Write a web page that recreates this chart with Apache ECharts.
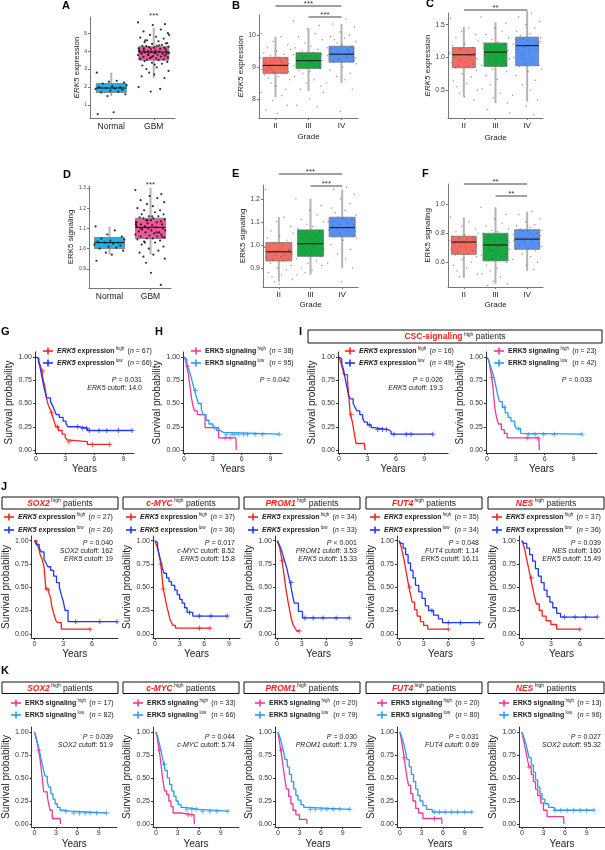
<!DOCTYPE html>
<html><head><meta charset="utf-8">
<script src="https://cdn.jsdelivr.net/npm/echarts@6/dist/echarts.min.js"></script>
<style>html,body{margin:0;padding:0;background:#fff}#c{width:605px;height:850px}</style>
</head><body><div id="c"></div>
<script>
// ================= DATA =================
const catsAD = ['Normal', 'GBM'];
const catsGrade = ['II', 'III', 'IV'];
// box stats: [min, Q1, median, Q3, max]
const statsA = [[1.5, 1.7, 1.95, 2.2, 2.8], [2.5, 3.5, 3.95, 4.25, 5.3]];
const statsB = [[8.05, 8.8, 9.05, 9.3, 9.95], [8.25, 8.95, 9.2, 9.45, 10.2], [8.5, 9.15, 9.4, 9.65, 10.35]];
const statsC = [[0.4, 0.84, 1.04, 1.15, 1.47], [0.3, 0.86, 1.08, 1.22, 1.54], [0.32, 0.87, 1.18, 1.31, 1.72]];
const statsD = [[0.97, 1.0, 1.03, 1.055, 1.11], [0.97, 1.05, 1.105, 1.15, 1.3]];
const statsE = [[0.84, 0.93, 0.97, 1.01, 1.12], [0.87, 0.95, 1.005, 1.065, 1.2], [0.9, 1.035, 1.075, 1.12, 1.24]];
const statsF = [[0.49, 0.655, 0.74, 0.78, 0.91], [0.45, 0.61, 0.72, 0.80, 0.98], [0.54, 0.69, 0.76, 0.825, 0.95]];
// jittered sample points
const ptsA_normal = [2.8, 2.35, 2.3, 2.25, 2.2, 2.1, 2.05, 2.0, 1.98, 1.95, 1.92, 1.9, 1.85, 1.8, 1.75, 1.7, 1.6, 1.5, 0.6, 0.5];
const ptsA_gbm = [5.6, 5.5, 5.45, 5.2, 5.1, 5.0, 4.9, 4.8, 4.75, 4.7, 4.6, 4.55, 4.5, 4.45, 4.4, 4.35, 4.3, 4.3, 4.28, 4.25, 4.22, 4.2, 4.18, 4.15, 4.12, 4.1, 4.08, 4.05, 4.03, 4.0, 4.0, 3.98, 3.96, 3.95, 3.93, 3.9, 3.88, 3.86, 3.85, 3.82, 3.8, 3.78, 3.75, 3.72, 3.7, 3.68, 3.65, 3.62, 3.6, 3.58, 3.55, 3.52, 3.5, 3.45, 3.4, 3.35, 3.3, 3.2, 3.1, 3.0, 2.9, 2.8, 2.7, 2.5, 2.0, 1.9, 1.75, 4.42, 4.15, 3.92, 3.78, 4.05, 4.32, 3.66, 3.84, 4.6, 4.9, 3.25, 2.6];
const ptsB_II = [10.05, 9.95, 9.8, 9.7, 9.6, 9.55, 9.5, 9.45, 9.4, 9.35, 9.3, 9.28, 9.25, 9.2, 9.15, 9.12, 9.1, 9.08, 9.05, 9.02, 9.0, 8.98, 8.95, 8.9, 8.85, 8.82, 8.8, 8.75, 8.7, 8.65, 8.6, 8.5, 8.4, 8.3, 8.2, 8.1, 7.95, 7.8, 7.65, 7.55, 9.18, 8.92, 9.22, 8.88];
const ptsB_III = [10.45, 10.3, 10.2, 10.05, 9.95, 9.85, 9.75, 9.65, 9.6, 9.55, 9.5, 9.45, 9.42, 9.4, 9.35, 9.3, 9.28, 9.25, 9.22, 9.2, 9.18, 9.15, 9.1, 9.05, 9.0, 8.98, 8.95, 8.9, 8.85, 8.8, 8.7, 8.6, 8.5, 8.4, 8.3, 8.2, 8.0, 7.8, 7.75, 9.32, 9.12, 9.38, 9.02];
const ptsB_IV = [10.5, 10.35, 10.25, 10.1, 10.0, 9.95, 9.9, 9.85, 9.8, 9.75, 9.7, 9.65, 9.6, 9.55, 9.5, 9.45, 9.42, 9.4, 9.38, 9.35, 9.3, 9.25, 9.2, 9.15, 9.1, 9.0, 8.9, 8.8, 8.7, 8.6, 8.5, 8.3, 7.6, 9.48, 9.58, 9.28];
const ptsC_II = [1.6, 1.45, 1.4, 1.35, 1.3, 1.25, 1.2, 1.18, 1.15, 1.12, 1.1, 1.08, 1.06, 1.04, 1.02, 1.0, 0.98, 0.96, 0.94, 0.92, 0.9, 0.88, 0.86, 0.84, 0.8, 0.75, 0.7, 0.65, 0.6, 0.55, 0.5, 0.45, 0.4, 0.35, 1.05, 0.97, 1.13];
const ptsC_III = [1.62, 1.52, 1.45, 1.4, 1.35, 1.3, 1.27, 1.24, 1.22, 1.2, 1.18, 1.15, 1.12, 1.1, 1.08, 1.06, 1.04, 1.02, 1.0, 0.98, 0.95, 0.92, 0.9, 0.88, 0.86, 0.82, 0.78, 0.72, 0.66, 0.58, 0.52, 0.45, 0.38, 0.3, 0.2, 0.15, 1.09, 1.14, 0.94];
const ptsC_IV = [1.68, 1.62, 1.55, 1.5, 1.45, 1.4, 1.36, 1.33, 1.3, 1.28, 1.25, 1.22, 1.2, 1.18, 1.16, 1.14, 1.12, 1.1, 1.05, 1.0, 0.95, 0.9, 0.88, 0.86, 0.82, 0.78, 0.72, 0.65, 0.58, 0.5, 0.42, 0.35, 0.25, 0.12, 1.19, 1.24, 1.08];
const ptsD_normal = [1.11, 1.09, 1.07, 1.06, 1.05, 1.045, 1.04, 1.035, 1.03, 1.03, 1.025, 1.02, 1.015, 1.01, 1.005, 1.0, 0.99, 0.98, 0.97, 0.94];
const ptsD_gbm = [1.29, 1.27, 1.26, 1.25, 1.24, 1.23, 1.22, 1.21, 1.2, 1.19, 1.19, 1.18, 1.17, 1.17, 1.16, 1.16, 1.155, 1.15, 1.15, 1.145, 1.14, 1.14, 1.135, 1.13, 1.13, 1.125, 1.12, 1.12, 1.115, 1.11, 1.11, 1.105, 1.1, 1.1, 1.095, 1.09, 1.09, 1.085, 1.08, 1.08, 1.075, 1.07, 1.07, 1.065, 1.06, 1.06, 1.055, 1.05, 1.05, 1.045, 1.04, 1.035, 1.03, 1.02, 1.01, 1.0, 0.99, 0.98, 0.97, 0.96, 0.95, 0.93, 0.88, 0.82, 1.12, 1.08, 1.14, 1.06, 1.1, 1.16, 1.03, 1.13];
const ptsE_II = [1.24, 1.12, 1.1, 1.08, 1.06, 1.05, 1.04, 1.03, 1.02, 1.01, 1.0, 0.99, 0.98, 0.975, 0.97, 0.965, 0.96, 0.955, 0.95, 0.945, 0.94, 0.935, 0.93, 0.92, 0.91, 0.9, 0.89, 0.88, 0.87, 0.86, 0.85, 0.84, 0.83, 0.975, 0.99, 0.955];
const ptsE_III = [1.2, 1.17, 1.15, 1.13, 1.11, 1.1, 1.09, 1.08, 1.07, 1.06, 1.05, 1.04, 1.03, 1.02, 1.01, 1.005, 1.0, 0.995, 0.99, 0.98, 0.97, 0.96, 0.95, 0.94, 0.93, 0.92, 0.91, 0.9, 0.89, 0.88, 0.87, 1.015, 1.035, 0.985];
const ptsE_IV = [1.25, 1.24, 1.22, 1.2, 1.18, 1.16, 1.15, 1.14, 1.13, 1.12, 1.115, 1.11, 1.1, 1.095, 1.09, 1.085, 1.08, 1.075, 1.07, 1.065, 1.06, 1.05, 1.04, 1.035, 1.03, 1.02, 1.0, 0.98, 0.96, 0.94, 0.92, 0.9, 0.84, 1.08, 1.1, 1.06];
const ptsF_II = [0.91, 0.88, 0.85, 0.83, 0.81, 0.8, 0.79, 0.78, 0.77, 0.765, 0.76, 0.75, 0.745, 0.74, 0.735, 0.73, 0.72, 0.71, 0.7, 0.69, 0.68, 0.67, 0.66, 0.65, 0.64, 0.62, 0.6, 0.58, 0.56, 0.54, 0.52, 0.5, 0.73, 0.755];
const ptsF_III = [0.98, 0.93, 0.9, 0.87, 0.85, 0.83, 0.82, 0.81, 0.8, 0.79, 0.78, 0.77, 0.76, 0.75, 0.74, 0.73, 0.72, 0.71, 0.7, 0.69, 0.68, 0.67, 0.66, 0.65, 0.64, 0.62, 0.6, 0.58, 0.56, 0.54, 0.52, 0.5, 0.47, 0.45, 0.44, 0.735, 0.705];
const ptsF_IV = [0.95, 0.93, 0.9, 0.88, 0.86, 0.85, 0.84, 0.83, 0.82, 0.815, 0.81, 0.8, 0.79, 0.78, 0.775, 0.77, 0.765, 0.76, 0.755, 0.75, 0.745, 0.74, 0.73, 0.72, 0.71, 0.7, 0.69, 0.68, 0.66, 0.64, 0.62, 0.6, 0.58, 0.55, 0.77, 0.785];
// jitter pattern (fraction of half band)
const JIT = [-0.92, 0.35, -0.15, 0.81, -0.54, 0.98, 0.06, -0.77, 0.57, -0.33, 0.24, -1.0, 0.71, -0.06, 0.45, -0.65, 0.9, -0.24, 0.15,
  -0.86, 0.63, -0.42, 0.3, -0.58, 0.86, -0.11, 0.52, -0.72, 0.19, -0.47, 0.94, -0.29, 0.03, 0.68, -0.96, 0.41, -0.19, 0.77, -0.63, 0.11, -0.37];

// Kaplan–Meier curves: [years, survival]; censor times
const kmG_hi = [[0,1],[0.15,0.985],[0.3,0.955],[0.45,0.91],[0.6,0.85],[0.75,0.75],[0.9,0.69],[1.0,0.62],[1.1,0.55],[1.25,0.49],[1.45,0.44],[1.6,0.4],[1.75,0.35],[1.9,0.3],[2.05,0.25],[2.3,0.21],[2.7,0.17],[3.0,0.14],[3.2,0.11],[3.35,0.09],[5.3,0.06],[7.6,0.06]];
const kmG_hi_c = [0.7, 1.6, 2.2, 3.4, 5.8, 7.6];
const kmG_lo = [[0,1],[0.1,0.985],[0.25,0.95],[0.4,0.9],[0.55,0.82],[0.7,0.74],[0.85,0.66],[1.0,0.6],[1.1,0.56],[1.5,0.52],[1.7,0.48],[1.9,0.43],[2.1,0.38],[2.4,0.35],[2.8,0.31],[3.1,0.28],[3.3,0.25],[4.5,0.235],[5.3,0.21],[9.9,0.21]];
const kmG_lo_c = [4.3, 4.8, 5.2, 5.5, 6.5, 7.3, 8.5, 9.9];
const kmH_hi = [[0,1],[0.15,0.97],[0.3,0.9],[0.45,0.82],[0.55,0.74],[0.7,0.63],[0.8,0.55],[0.95,0.47],[1.1,0.42],[1.4,0.38],[2.2,0.24],[3.6,0.13],[5.4,0.13],[5.45,0]];
const kmH_hi_c = [0.35, 4.3, 4.8];
const kmH_lo = [[0,1],[0.1,0.98],[0.3,0.93],[0.5,0.87],[0.7,0.8],[0.9,0.72],[1.1,0.64],[1.3,0.57],[1.5,0.5],[1.8,0.44],[2.0,0.38],[2.3,0.32],[2.6,0.28],[3.0,0.24],[3.4,0.21],[3.8,0.19],[4.1,0.17],[9.9,0.17]];
const kmH_lo_c = [1.2, 3.2, 4.4, 5.0, 5.3, 5.7, 6.2, 6.6, 7.4, 8.2, 9.9];
const kmI1_hi = [[0,1],[0.2,0.94],[0.4,0.87],[0.5,0.81],[0.9,0.75],[1.0,0.62],[1.1,0.5],[1.2,0.38],[1.4,0.31],[1.6,0.19],[1.8,0.07],[2.7,0.07],[2.75,0]];
const kmI1_hi_c = [1.3];
const kmI1_lo = [[0,1],[0.2,0.98],[0.3,0.92],[0.5,0.86],[0.6,0.8],[0.75,0.72],[0.9,0.65],[1.0,0.59],[1.2,0.55],[1.5,0.5],[1.7,0.46],[1.9,0.42],[2.2,0.38],[2.5,0.34],[2.7,0.3],[3.0,0.27],[3.4,0.24],[3.7,0.22],[5.2,0.2],[5.5,0.17],[9.9,0.17]];
const kmI1_lo_c = [3.2, 4.1, 4.6, 5.0, 5.8, 7.1, 7.6, 9.9];
const kmI2_hi = [[0,1],[0.2,0.96],[0.35,0.87],[0.5,0.78],[0.65,0.65],[0.75,0.52],[0.85,0.43],[1.0,0.35],[1.2,0.28],[1.5,0.22],[1.8,0.18],[2.1,0.13],[5.4,0.13],[5.45,0]];
const kmI2_hi_c = [0.5, 4.2, 5.3];
const kmI2_lo = [[0,1],[0.15,0.97],[0.3,0.92],[0.5,0.86],[0.7,0.79],[0.9,0.7],[1.1,0.6],[1.3,0.52],[1.6,0.46],[1.9,0.4],[2.2,0.35],[2.5,0.31],[2.9,0.26],[3.1,0.23],[3.5,0.18],[3.6,0.17],[9.9,0.17]];
const kmI2_lo_c = [1.8, 3.3, 4.3, 5.0, 5.9, 7.0, 9.9];
// J (expression) panels
const kmJ1_hi = [[0,1],[0.25,0.96],[0.45,0.92],[0.6,0.85],[0.8,0.8],[1.0,0.72],[1.1,0.6],[1.2,0.48],[1.5,0.44],[1.7,0.38],[1.8,0.3],[2.0,0.22],[2.2,0.15],[2.4,0.12],[2.8,0.05],[5.8,0.05]];
const kmJ1_hi_c = [1.3, 5.8];
const kmJ1_lo = [[0,1],[0.2,0.96],[0.5,0.92],[0.7,0.88],[1.0,0.8],[1.2,0.76],[1.4,0.72],[1.7,0.68],[2.0,0.62],[2.3,0.55],[2.6,0.5],[2.8,0.42],[3.0,0.35],[3.2,0.25],[3.5,0.13],[8.6,0.13]];
const kmJ1_lo_c = [4.3, 6.8, 8.6];
const kmJ2_hi = [[0,1],[0.1,0.97],[0.3,0.92],[0.5,0.84],[0.7,0.75],[0.8,0.66],[0.9,0.57],[1.0,0.48],[1.2,0.4],[1.35,0.33],[1.5,0.27],[1.65,0.22],[1.8,0.16],[2.0,0.12],[2.2,0.09],[2.5,0.06],[6.7,0.06]];
const kmJ2_hi_c = [0.7, 1.0, 5.4, 6.7];
const kmJ2_lo = [[0,1],[0.1,0.98],[0.3,0.93],[0.5,0.85],[0.7,0.78],[0.9,0.7],[1.1,0.65],[1.4,0.6],[1.7,0.56],[2.0,0.52],[2.4,0.47],[2.7,0.42],[3.0,0.37],[3.3,0.33],[3.6,0.28],[3.9,0.23],[4.6,0.19],[8.8,0.19]];
const kmJ2_lo_c = [4.2, 5.4, 6.8, 8.8];
const kmJ3_hi = [[0,1],[0.15,0.97],[0.3,0.93],[0.45,0.86],[0.6,0.79],[0.75,0.7],[0.9,0.6],[1.05,0.5],[1.2,0.42],[1.35,0.34],[1.5,0.27],[1.65,0.2],[1.8,0.14],[2.0,0.09],[2.2,0.06],[2.4,0.03],[2.7,0.03]];
const kmJ3_hi_c = [0.6, 2.7];
const kmJ3_lo = [[0,1],[0.2,0.97],[0.4,0.93],[0.6,0.88],[0.8,0.82],[1.0,0.76],[1.2,0.7],[1.4,0.62],[1.6,0.55],[1.75,0.48],[1.9,0.41],[2.1,0.33],[2.6,0.24],[3.1,0.17],[8.8,0.17]];
const kmJ3_lo_c = [1.7, 3.4, 4.4, 5.6, 7.2, 8.8];
const kmJ4_hi = [[0,1],[0.2,0.95],[0.4,0.88],[0.6,0.8],[0.8,0.7],[1.0,0.6],[1.2,0.5],[1.4,0.42],[1.6,0.34],[1.9,0.26],[2.2,0.19],[2.6,0.13],[3.0,0.09],[3.5,0.05],[6.0,0.05]];
const kmJ4_hi_c = [1.3, 6.0];
const kmJ4_lo = [[0,1],[0.2,0.97],[0.5,0.92],[0.8,0.85],[1.1,0.76],[1.4,0.68],[1.7,0.6],[2.0,0.52],[2.4,0.45],[2.8,0.38],[3.2,0.3],[3.6,0.25],[4.2,0.2],[4.8,0.16],[5.3,0.12],[9.8,0.12]];
const kmJ4_lo_c = [4.0, 6.0, 7.5, 9.8];
const kmJ5_hi = [[0,1],[0.15,0.96],[0.3,0.9],[0.5,0.8],[0.7,0.7],[0.9,0.6],[1.1,0.5],[1.3,0.4],[1.5,0.32],[1.8,0.25],[2.1,0.19],[2.5,0.14],[3.0,0.1],[3.6,0.05],[6.0,0.05]];
const kmJ5_hi_c = [1.0, 6.0];
const kmJ5_lo = [[0,1],[0.2,0.97],[0.5,0.92],[0.8,0.85],[1.1,0.78],[1.4,0.7],[1.7,0.62],[2.0,0.55],[2.3,0.47],[2.6,0.4],[2.9,0.34],[3.2,0.28],[3.6,0.22],[4.0,0.18],[7.8,0.18]];
const kmJ5_lo_c = [4.4, 5.5, 6.6, 7.8];
// K (signaling) panels
const kmK1_hi = [[0,1],[0.2,0.94],[0.4,0.88],[0.6,0.8],[0.8,0.7],[0.95,0.6],[1.1,0.5],[1.3,0.35],[1.8,0.3],[2.0,0.22],[2.2,0.15],[2.5,0.06],[3.6,0.06],[3.65,0]];
const kmK1_hi_c = [0.6];
const kmK1_lo = [[0,1],[0.15,0.97],[0.3,0.92],[0.5,0.86],[0.7,0.8],[0.9,0.72],[1.1,0.65],[1.3,0.58],[1.5,0.52],[1.8,0.46],[2.0,0.4],[2.3,0.33],[2.6,0.27],[2.9,0.22],[3.2,0.18],[3.6,0.15],[4.0,0.14],[5.0,0.12],[10.1,0.12]];
const kmK1_lo_c = [4.4, 5.5, 6.3, 7.1, 7.8, 8.7, 10.1];
const kmK2_hi = [[0,1],[0.15,0.95],[0.3,0.88],[0.45,0.8],[0.6,0.72],[0.75,0.62],[0.9,0.52],[1.05,0.44],[1.2,0.36],[1.5,0.32],[1.8,0.25],[2.1,0.19],[2.4,0.12],[3.4,0.1],[5.3,0.1],[5.35,0]];
const kmK2_hi_c = [0.5, 4.5, 5.0];
const kmK2_lo = [[0,1],[0.15,0.97],[0.3,0.93],[0.5,0.87],[0.7,0.8],[0.9,0.72],[1.1,0.65],[1.3,0.58],[1.6,0.5],[1.9,0.43],[2.2,0.36],[2.5,0.3],[2.8,0.25],[3.1,0.21],[3.5,0.18],[4.0,0.16],[6.0,0.14],[10,0.14]];
const kmK2_lo_c = [1.2, 4.3, 5.0, 5.6, 6.5, 7.5, 8.5, 10];
const kmK3_hi = [[0,1],[0.2,0.9],[0.4,0.8],[0.6,0.7],[0.8,0.58],[1.0,0.47],[1.2,0.38],[1.5,0.3],[1.8,0.22],[2.1,0.15],[2.5,0.1],[3.0,0.05],[4.0,0.05],[4.05,0]];
const kmK3_hi_c = [0.5];
const kmK3_lo = [[0,1],[0.15,0.97],[0.35,0.92],[0.6,0.85],[0.8,0.78],[1.0,0.7],[1.3,0.62],[1.6,0.54],[1.9,0.46],[2.2,0.38],[2.5,0.31],[2.8,0.26],[3.2,0.21],[3.6,0.18],[4.2,0.16],[10,0.16]];
const kmK3_lo_c = [4.5, 5.2, 6.0, 6.8, 7.7, 8.6, 10];
const kmK4_hi = [[0,1],[0.2,0.92],[0.4,0.82],[0.6,0.72],[0.8,0.6],[1.0,0.5],[1.2,0.42],[1.5,0.33],[1.8,0.25],[2.2,0.17],[2.6,0.12],[3.2,0.06],[5.8,0.06],[5.85,0]];
const kmK4_hi_c = [0.6, 4.8];
const kmK4_lo = [[0,1],[0.15,0.97],[0.35,0.92],[0.6,0.85],[0.8,0.78],[1.0,0.7],[1.3,0.62],[1.6,0.54],[1.9,0.46],[2.2,0.38],[2.5,0.31],[2.8,0.25],[3.2,0.2],[3.7,0.16],[4.5,0.13],[10,0.13]];
const kmK4_lo_c = [4.8, 5.5, 6.3, 7.2, 8.0, 9.0, 10];
const kmK5_hi = [[0,1],[0.2,0.92],[0.4,0.85],[0.6,0.77],[0.8,0.69],[1.0,0.62],[1.3,0.54],[1.6,0.46],[1.9,0.38],[2.2,0.31],[2.6,0.23],[3.0,0.15],[3.5,0.08],[5.8,0.08],[5.85,0]];
const kmK5_hi_c = [1.0];
const kmK5_lo = [[0,1],[0.15,0.97],[0.35,0.92],[0.6,0.86],[0.8,0.79],[1.0,0.72],[1.3,0.64],[1.6,0.56],[1.9,0.48],[2.2,0.4],[2.5,0.33],[2.8,0.27],[3.2,0.22],[3.7,0.18],[4.5,0.15],[10,0.15]];
const kmK5_lo_c = [4.6, 5.4, 6.3, 7.2, 8.1, 9.0, 10];

// labels / annotations text
const genesJ = ['SOX2', 'c-MYC', 'PROM1', 'FUT4', 'NES'];
const nJ = [[27, 26], [37, 36], [34, 33], [35, 34], [37, 36]];
const pJ = ['= 0.040', '= 0.017', '< 0.001', '= 0.048', '= 0.039'];
const geneCutJ = ['162', '8.52', '3.53', '1.14', '160'];
const erkCutJ = ['19', '15.8', '15.33', '16.11', '15.49'];
const nK = [[17, 82], [33, 66], [20, 79], [20, 80], [13, 96]];
const pK = ['0.039', '0.044', '0.030', '0.031', '0.027'];
const cutGeneK = ['SOX2', 'c-MYC', 'PROM1', 'FUT4', 'SOX2'];
const cutK = ['51.9', '5.74', '1.79', '0.69', '95.32'];

// ================= STYLE / LAYOUT =================
const FONT = '"Liberation Sans", Arial, Helvetica, sans-serif';
const RED = '#F5221B', BLUE = '#2038F0', PINK = '#F0388E', LBLUE = '#2A9BF2';
const C_NORMAL = '#1DB3E9', C_GBM = '#F0569C', C_II = '#F46B62', C_III = '#17A840', C_IV = '#5590F2';
const PLUS = 'path://M2,0h1v2h2v1h-2v2h-1v-2h-2v-1h2z';

const grids = [], xAxes = [], yAxes = [], series = [], graphics = [];

function rs(size, o) { return Object.assign({ fontSize: size, fontFamily: FONT, fill: '#222' }, o || {}); }
function survAt(d, t) { let s = d[0][1]; for (const p of d) { if (p[0] <= t + 1e-9) s = p[1]; else break; } return s; }

function addBoxPanel(p) {
  const gi = grids.length;
  grids.push({ left: p.rect[0], top: p.rect[1], width: p.rect[2], height: p.rect[3] });
  const n = p.cats.length, idx = p.cats.map((c, i) => i);
  const xi = xAxes.length;
  xAxes.push({ gridIndex: gi, type: 'value', min: -0.5, max: n - 0.5,
    axisLine: { show: true, onZero: false, lineStyle: { color: '#777', width: 1 } },
    axisTick: { show: true, length: 2, customValues: idx, lineStyle: { color: '#777' } },
    axisLabel: { customValues: idx, formatter: v => p.cats[Math.round(v)], fontSize: p.catFont, fontFamily: FONT, color: '#222', margin: 4 },
    splitLine: { show: false },
    name: p.xname || '', nameLocation: 'middle', nameGap: p.xGap || 14,
    nameTextStyle: { fontSize: 8, fontFamily: FONT, color: '#222' } });
  const yi = yAxes.length;
  yAxes.push({ gridIndex: gi, type: 'value', min: p.ymin, max: p.ymax,
    axisLine: { show: true, onZero: false, lineStyle: { color: '#777' } },
    axisTick: { show: true, length: 2, customValues: p.yticks, lineStyle: { color: '#777' } },
    axisLabel: { customValues: p.yticks, formatter: v => v.toFixed(p.dec), fontSize: p.tickFont, fontFamily: FONT, color: '#444', margin: 3 },
    splitLine: { show: false },
    name: p.yname, nameLocation: 'middle', nameGap: p.yGap,
    nameTextStyle: { fontSize: 8, fontFamily: FONT, color: '#222', rich: { i: { fontSize: 8, fontFamily: FONT, color: '#222', fontStyle: 'italic' } } } });
  series.push({ type: 'custom', xAxisIndex: xi, yAxisIndex: yi, silent: true, z: 2,
    data: p.stats.map((s, i) => [i].concat(s)),
    renderItem: function (params, api) {
      const i = api.value(0);
      const pMin = api.coord([i, api.value(1)]), pQ1 = api.coord([i, api.value(2)]);
      const pMed = api.coord([i, api.value(3)]), pQ3 = api.coord([i, api.value(4)]), pMax = api.coord([i, api.value(5)]);
      const x = pMed[0], bw = p.boxW;
      return { type: 'group', children: [
        { type: 'line', shape: { x1: x, y1: pMax[1], x2: x, y2: pMin[1] }, style: { stroke: '#b3b3b3', lineWidth: 2 } },
        { type: 'rect', shape: { x: x - bw / 2, y: pQ3[1], width: bw, height: pQ1[1] - pQ3[1] }, style: { fill: p.colors[i], stroke: '#777', lineWidth: 0.8 } },
        { type: 'line', shape: { x1: x - bw / 2, y1: pMed[1], x2: x + bw / 2, y2: pMed[1] }, style: { stroke: '#222', lineWidth: 1.2 } }
      ] };
    } });
  p.pts.forEach((arr, g) => {
    series.push({ type: 'scatter', xAxisIndex: xi, yAxisIndex: yi, silent: true, z: 3,
      symbolSize: p.ptSize, itemStyle: { color: p.ptColor, opacity: p.ptOp },
      data: arr.map((v, k) => [g + JIT[(k + g * 11) % JIT.length] * p.spread, v]) });
  });
  const cx = i => p.rect[0] + (i + 0.5) * p.rect[2] / n;
  (p.sig || []).forEach(s => {
    if (s.x1 !== undefined) graphics.push({ type: 'line', silent: true, shape: { x1: cx(s.x1), y1: s.y, x2: cx(s.x2), y2: s.y }, style: { stroke: '#444', lineWidth: 1.2 } });
    const mx = s.x1 !== undefined ? (cx(s.x1) + cx(s.x2)) / 2 : cx(s.at);
    graphics.push({ type: 'text', silent: true, x: mx, y: s.y - 2, style: { text: s.label, fontSize: 8, fontFamily: FONT, fill: '#333', align: 'center', textAlign: 'center', verticalAlign: 'middle', textVerticalAlign: 'middle' } });
  });
}

const YT = [0, 0.25, 0.5, 0.75, 1];
function addKM(p) {
  const gi = grids.length;
  grids.push({ left: p.rect[0], top: p.rect[1], width: p.rect[2], height: p.rect[3] });
  const xi = xAxes.length;
  xAxes.push({ gridIndex: gi, type: 'value', min: p.x[0], max: p.x[1],
    axisLine: { show: true, onZero: false, lineStyle: { color: '#333' } },
    axisTick: { show: true, length: 2, customValues: p.xt, lineStyle: { color: '#333' } },
    axisLabel: { customValues: p.xt, fontSize: 7, fontFamily: FONT, color: '#333', margin: 3 },
    splitLine: { show: false },
    name: 'Years', nameLocation: 'middle', nameGap: p.xg, nameTextStyle: { fontSize: 10, fontFamily: FONT, color: '#222' } });
  const yi = yAxes.length;
  yAxes.push({ gridIndex: gi, type: 'value', min: p.y[0], max: p.y[1],
    axisLine: { show: true, onZero: false, lineStyle: { color: '#333' } },
    axisTick: { show: true, length: 2, customValues: YT, lineStyle: { color: '#333' } },
    axisLabel: { customValues: YT, formatter: v => v.toFixed(2), fontSize: 7, fontFamily: FONT, color: '#333', margin: 3 },
    splitLine: { show: false },
    name: 'Survival probability', nameLocation: 'middle', nameGap: p.yg, nameTextStyle: { fontSize: 10, fontFamily: FONT, color: '#222' } });
  p.curves.forEach(cv => {
    series.push({ type: 'line', xAxisIndex: xi, yAxisIndex: yi, step: 'end', data: cv.d, showSymbol: false, symbol: 'none', silent: true, z: 2,
      lineStyle: { color: cv.col, width: 1.3 }, itemStyle: { color: cv.col } });
    series.push({ type: 'scatter', xAxisIndex: xi, yAxisIndex: yi, silent: true, z: 3, symbol: PLUS, symbolSize: 5,
      itemStyle: { color: cv.col }, data: cv.c.map(t => [t, survAt(cv.d, t)]) });
  });
}

// ---- rich text helpers ----
const RICH_LEG = {
  bi: rs(7, { fontWeight: 'bold', fontStyle: 'italic', lineHeight: 9 }),
  b: rs(7, { fontWeight: 'bold', lineHeight: 9 }),
  s: rs(4.5, { lineHeight: 5, verticalAlign: 'top', width: 13 }),
  t: rs(7, { lineHeight: 9 }),
  i: rs(7, { fontStyle: 'italic', lineHeight: 9 })
};
const RICH_ST = { t: rs(7, {}), i: rs(7, { fontStyle: 'italic' }) };
const RICH_HD = {
  ri: rs(8.5, { fontWeight: 'bold', fontStyle: 'italic', fill: '#FF1A1A', lineHeight: 10 }),
  rn: rs(8.5, { fontWeight: 'bold', fill: '#FF1A1A', lineHeight: 10 }),
  s: rs(5, { lineHeight: 5.5, verticalAlign: 'top' }),
  t: rs(8.5, { lineHeight: 10 })
};
function legExpr(lvl, n) { return '{bi|ERK5}{b| expression}{s| ' + lvl + '}{t|(}{i|n}{t| = ' + n + ')}'; }
function legSig(lvl, n) { return '{b|ERK5 signaling}{s| ' + lvl + '}{t|(}{i|n}{t| = ' + n + ')}'; }
function txt(x, y, text, rich, align) {
  graphics.push({ type: 'text', silent: true, x: x, y: y, style: { text: text, rich: rich, fontSize: 7, fontFamily: FONT, fill: '#222',
    align: align || 'left', textAlign: align || 'left', verticalAlign: 'middle', textVerticalAlign: 'middle' } });
}
function legendItem(x, y, color, text) {
  graphics.push({ type: 'line', silent: true, shape: { x1: x - 14, y1: y, x2: x - 4, y2: y }, style: { stroke: color, lineWidth: 1.6 } });
  graphics.push({ type: 'line', silent: true, shape: { x1: x - 9, y1: y - 3.5, x2: x - 9, y2: y + 3.5 }, style: { stroke: color, lineWidth: 1.6 } });
  txt(x, y, text, RICH_LEG, 'left');
}
function header(x, y, w, h, text) {
  graphics.push({ type: 'rect', silent: true, shape: { x: x, y: y, width: w, height: h }, style: { fill: '#fff', stroke: '#111', lineWidth: 1 } });
  graphics.push({ type: 'text', silent: true, x: x + w / 2, y: y + h / 2 + 0.5, style: { text: text, rich: RICH_HD, fontSize: 8.5, fontFamily: FONT, fill: '#222',
    align: 'center', textAlign: 'center', verticalAlign: 'middle', textVerticalAlign: 'middle' }, z: 10 });
}
function letter(ch, x, y) {
  graphics.push({ type: 'text', silent: true, x: x, y: y, style: { text: ch, fontSize: 11, fontWeight: 'bold', fontFamily: FONT, fill: '#000',
    align: 'left', textAlign: 'left', verticalAlign: 'top', textVerticalAlign: 'top' } });
}

// ================= BUILD =================
addBoxPanel({ rect: [90, 17, 85, 101], cats: catsAD, stats: statsA, pts: [ptsA_normal, ptsA_gbm], colors: [C_NORMAL, C_GBM],
  ymin: 0.28, ymax: 5.9, yticks: [1, 2, 3, 4, 5], dec: 0, tickFont: 5, catFont: 8.5, boxW: 30,
  yname: '{i|ERK5} expression', yGap: 8, ptColor: '#111', ptSize: 2.2, ptOp: 0.85, spread: 0.37,
  sig: [{ at: 1, y: 18, label: '***' }] });
addBoxPanel({ rect: [259, 15, 99, 103], cats: catsGrade, stats: statsB, pts: [ptsB_II, ptsB_III, ptsB_IV], colors: [C_II, C_III, C_IV],
  ymin: 7.4, ymax: 10.63, yticks: [8, 9, 10], dec: 0, tickFont: 7, catFont: 8, boxW: 25,
  yname: '{i|ERK5} expression', yGap: 11, xname: 'Grade', xGap: 15, ptColor: '#555', ptSize: 1.5, ptOp: 0.6, spread: 0.46,
  sig: [{ x1: 0, x2: 2, y: 6, label: '***' }, { x1: 1, x2: 2, y: 17, label: '***' }] });
addBoxPanel({ rect: [448, 13, 95, 105], cats: catsGrade, stats: statsC, pts: [ptsC_II, ptsC_III, ptsC_IV], colors: [C_II, C_III, C_IV],
  ymin: 0.07, ymax: 1.68, yticks: [0.5, 1.0, 1.5], dec: 1, tickFont: 7, catFont: 8, boxW: 23,
  yname: '{i|ERK5} expression', yGap: 13, xname: 'Grade', xGap: 16, ptColor: '#555', ptSize: 1.5, ptOp: 0.6, spread: 0.46,
  sig: [{ x1: 0, x2: 2, y: 10, label: '**' }] });
addBoxPanel({ rect: [89, 186, 82, 102], cats: catsAD, stats: statsD, pts: [ptsD_normal, ptsD_gbm], colors: [C_NORMAL, C_GBM],
  ymin: 0.805, ymax: 1.31, yticks: [0.9, 1.0, 1.1, 1.2, 1.3], dec: 1, tickFont: 5, catFont: 8.5, boxW: 30,
  yname: 'ERK5 signaling', yGap: 10, ptColor: '#111', ptSize: 2.2, ptOp: 0.85, spread: 0.37,
  sig: [{ at: 1, y: 187, label: '***' }] });
addBoxPanel({ rect: [263, 185, 95, 102], cats: catsGrade, stats: statsE, pts: [ptsE_II, ptsE_III, ptsE_IV], colors: [C_II, C_III, C_IV],
  ymin: 0.817, ymax: 1.26, yticks: [0.9, 1.0, 1.1, 1.2], dec: 1, tickFont: 7, catFont: 8, boxW: 26,
  yname: 'ERK5 signaling', yGap: 14, xname: 'Grade', xGap: 14, ptColor: '#555', ptSize: 1.5, ptOp: 0.6, spread: 0.46,
  sig: [{ x1: 0, x2: 2, y: 174, label: '***' }, { x1: 1, x2: 2, y: 186, label: '***' }] });
addBoxPanel({ rect: [448, 184, 95, 103], cats: catsGrade, stats: statsF, pts: [ptsF_II, ptsF_III, ptsF_IV], colors: [C_II, C_III, C_IV],
  ymin: 0.43, ymax: 1.14, yticks: [0.6, 0.8, 1.0], dec: 1, tickFont: 7, catFont: 8, boxW: 25,
  yname: 'ERK5 signaling', yGap: 14, xname: 'Grade', xGap: 14, ptColor: '#555', ptSize: 1.5, ptOp: 0.6, spread: 0.46,
  sig: [{ x1: 0, x2: 2, y: 184, label: '**' }, { x1: 1, x2: 2, y: 196, label: '**' }] });

// G, H, I
const ROWY = [-0.032, 1.054];
addKM({ rect: [35, 352, 99, 101], x: [-0.1, 10.1], y: ROWY, xt: [0, 3, 6, 9], xg: 11, yg: 21,
  curves: [{ d: kmG_hi, c: kmG_hi_c, col: RED }, { d: kmG_lo, c: kmG_lo_c, col: BLUE }] });
addKM({ rect: [183, 352, 99, 101], x: [-0.1, 10.2], y: ROWY, xt: [0, 3, 6, 9], xg: 11, yg: 21,
  curves: [{ d: kmH_hi, c: kmH_hi_c, col: PINK }, { d: kmH_lo, c: kmH_lo_c, col: LBLUE }] });
addKM({ rect: [338, 352, 110, 101], x: [-0.1, 11.5], y: ROWY, xt: [0, 3, 6, 9], xg: 11, yg: 21,
  curves: [{ d: kmI1_hi, c: kmI1_hi_c, col: RED }, { d: kmI1_lo, c: kmI1_lo_c, col: BLUE }] });
addKM({ rect: [486, 352, 111, 101], x: [-0.1, 11.45], y: ROWY, xt: [0, 3, 6, 9], xg: 11, yg: 21,
  curves: [{ d: kmI2_hi, c: kmI2_hi_c, col: PINK }, { d: kmI2_lo, c: kmI2_lo_c, col: LBLUE }] });

legendItem(57, 351, RED, legExpr('high', 67)); legendItem(57, 363, BLUE, legExpr('low', 66));
legendItem(205, 351, PINK, legSig('high', 38)); legendItem(205, 363, LBLUE, legSig('low', 95));
legendItem(359, 351, RED, legExpr('high', 16)); legendItem(359, 363, BLUE, legExpr('low', 49));
legendItem(508, 351, PINK, legSig('high', 23)); legendItem(508, 363, LBLUE, legSig('low', 42));
txt(142, 380, '{i|P}{t| = 0.031}', RICH_ST, 'right'); txt(142, 388, '{i|ERK5}{t| cutoff: 14.0}', RICH_ST, 'right');
txt(290, 380, '{i|P}{t| = 0.042}', RICH_ST, 'right');
txt(443, 380, '{i|P}{t| = 0.026}', RICH_ST, 'right'); txt(443, 388, '{i|ERK5}{t| cutoff: 19.3}', RICH_ST, 'right');
txt(592, 380, '{i|P}{t| = 0.033}', RICH_ST, 'right');
header(308, 330, 294, 13, '{rn|CSC-signaling}{s| high}{t| patients}');

// J and K rows
const AX = [31, 153, 275, 397, 519];
const HDX = [2, 123, 244, 366, 488];
const JX = [[-0.3, 8.7, [0, 3, 6]], [-0.25, 10.35, [0, 3, 6, 9]], [-0.25, 10.35, [0, 3, 6, 9]], [-0.25, 10.35, [0, 3, 6, 9]], [-0.3, 8.5, [0, 3, 6]]];
const JW = [87, 87, 87, 87, 85];
const kmJ = [[kmJ1_hi, kmJ1_hi_c, kmJ1_lo, kmJ1_lo_c], [kmJ2_hi, kmJ2_hi_c, kmJ2_lo, kmJ2_lo_c], [kmJ3_hi, kmJ3_hi_c, kmJ3_lo, kmJ3_lo_c], [kmJ4_hi, kmJ4_hi_c, kmJ4_lo, kmJ4_lo_c], [kmJ5_hi, kmJ5_hi_c, kmJ5_lo, kmJ5_lo_c]];
const kmK = [[kmK1_hi, kmK1_hi_c, kmK1_lo, kmK1_lo_c], [kmK2_hi, kmK2_hi_c, kmK2_lo, kmK2_lo_c], [kmK3_hi, kmK3_hi_c, kmK3_lo, kmK3_lo_c], [kmK4_hi, kmK4_hi_c, kmK4_lo, kmK4_lo_c], [kmK5_hi, kmK5_hi_c, kmK5_lo, kmK5_lo_c]];
for (let k = 0; k < 5; k++) {
  const a = AX[k];
  addKM({ rect: [a, 536, JW[k], 102], x: [JX[k][0], JX[k][1]], y: [-0.045, 1.05], xt: JX[k][2], xg: 11, yg: 19,
    curves: [{ d: kmJ[k][0], c: kmJ[k][1], col: RED }, { d: kmJ[k][2], c: kmJ[k][3], col: BLUE }] });
  header(HDX[k], 497, 116, 12, '{ri|' + genesJ[k] + '}{s| high}{t| patients}');
  legendItem(a - 13, 517, RED, legExpr('high', nJ[k][0]));
  legendItem(a - 13, 530, BLUE, legExpr('low', nJ[k][1]));
  txt(a + 82, 543, '{i|P}{t| ' + pJ[k] + '}', RICH_ST, 'right');
  txt(a + 82, 551, '{i|' + genesJ[k] + '}{t| cutoff: ' + geneCutJ[k] + '}', RICH_ST, 'right');
  txt(a + 82, 559, '{i|ERK5}{t| cutoff: ' + erkCutJ[k] + '}', RICH_ST, 'right');

  addKM({ rect: [a, 727, 86, 102], x: [-0.4, 11.55], y: [-0.032, 1.053], xt: [0, 3, 6, 9], xg: 12, yg: 19,
    curves: [{ d: kmK[k][0], c: kmK[k][1], col: PINK }, { d: kmK[k][2], c: kmK[k][3], col: LBLUE }] });
  header(HDX[k], 682, 116, 11.5, '{ri|' + genesJ[k] + '}{s| high}{t| patients}');
  legendItem(a - 6, 703, PINK, legSig('high', nK[k][0]));
  legendItem(a - 6, 715, LBLUE, legSig('low', nK[k][1]));
  txt(a + 82, 737, '{i|P}{t| = ' + pK[k] + '}', RICH_ST, 'right');
  txt(a + 82, 745, '{i|' + cutGeneK[k] + '}{t| cutoff: ' + cutK[k] + '}', RICH_ST, 'right');
}

// panel letters
letter('A', 62, 0); letter('B', 232, 0); letter('C', 426, -2);
letter('D', 63, 169); letter('E', 232, 168); letter('F', 422, 168);
letter('G', 1, 326); letter('H', 155, 326); letter('I', 299, 326);
letter('J', 1, 481); letter('K', 1, 665);

const chart = echarts.init(document.getElementById('c'), null, { renderer: 'canvas' });
chart.setOption({ animation: false, backgroundColor: '#fff', grid: grids, xAxis: xAxes, yAxis: yAxes, series: series, graphic: { elements: graphics } });
</script></body></html>
